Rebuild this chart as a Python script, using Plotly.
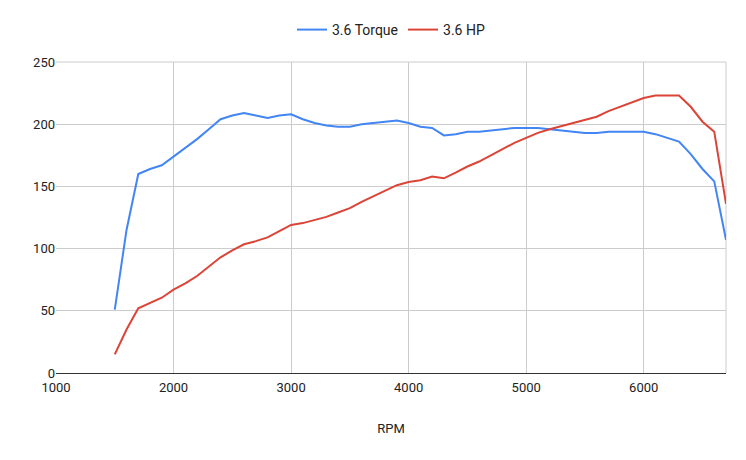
import plotly.graph_objects as go

rpm = list(range(1500, 6800, 100))

torque = [51, 115, 160, 164, 167, 174, 181, 188, 196, 204,
          207, 209, 207, 205, 207, 208, 204, 201, 199, 198,
          198, 200, 201, 202, 203, 201, 198, 197, 191, 192,
          194, 194, 195, 196, 197, 197, 197, 196, 195, 194,
          193, 193, 194, 194, 194, 194, 192, 189, 186, 176,
          164, 154, 107]

hp = [15, 35, 52, 56, 60.5, 67, 72, 78, 85.5, 93,
      98.5, 103.5, 106, 109, 114, 119, 120.5, 123, 125.5, 129,
      132.5, 137.5, 142, 146.5, 151, 153.5, 155, 158, 156.5, 161,
      166, 170, 175, 180, 185, 189, 193, 196, 198.5, 200.5,
      203, 206, 210.5, 214, 218, 221, 223, 223, 223, 214,
      202, 194, 136]

fig = go.Figure()
fig.add_trace(go.Scatter(x=rpm, y=torque, mode="lines", name="3.6 Torque",
                         line=dict(color="#4285F4", width=2)))
fig.add_trace(go.Scatter(x=rpm, y=hp, mode="lines", name="3.6 HP",
                         line=dict(color="#DB4437", width=2)))

fig.update_layout(
    width=746, height=460,
    margin=dict(l=48, r=28, t=54, b=95),
    paper_bgcolor="white", plot_bgcolor="white",
    font=dict(family="Roboto, Arial, sans-serif", size=13, color="#222222"),
    legend=dict(orientation="h", x=0.5, xanchor="center", y=0.987, yanchor="top",
                yref="container", font=dict(size=14), itemwidth=30),
    showlegend=True,
)
fig.update_layout(margin_autoexpand=False)

fig.update_xaxes(
    range=[1000, 6700], tickvals=[1000, 2000, 3000, 4000, 5000, 6000],
    showgrid=True, gridcolor="#cccccc", gridwidth=1,
    showline=True, linecolor="#333333", linewidth=1,
    zeroline=False, ticks="", ticklabelstandoff=2,
    title=dict(text="RPM", font=dict(size=13), standoff=30),
)
fig.update_yaxes(
    range=[0, 250], tickvals=[0, 50, 100, 150, 200, 250],
    showgrid=True, gridcolor="#cccccc", gridwidth=1,
    zeroline=False, showline=False, ticks="",
)
# top and right border like the original
fig.add_shape(type="line", xref="paper", yref="paper", x0=0, x1=1, y0=1, y1=1,
              line=dict(color="#cccccc", width=1))
fig.add_shape(type="line", xref="paper", yref="paper", x0=1, x1=1, y0=0, y1=1,
              line=dict(color="#cccccc", width=1), layer="below")

fig.write_html("out.html")
